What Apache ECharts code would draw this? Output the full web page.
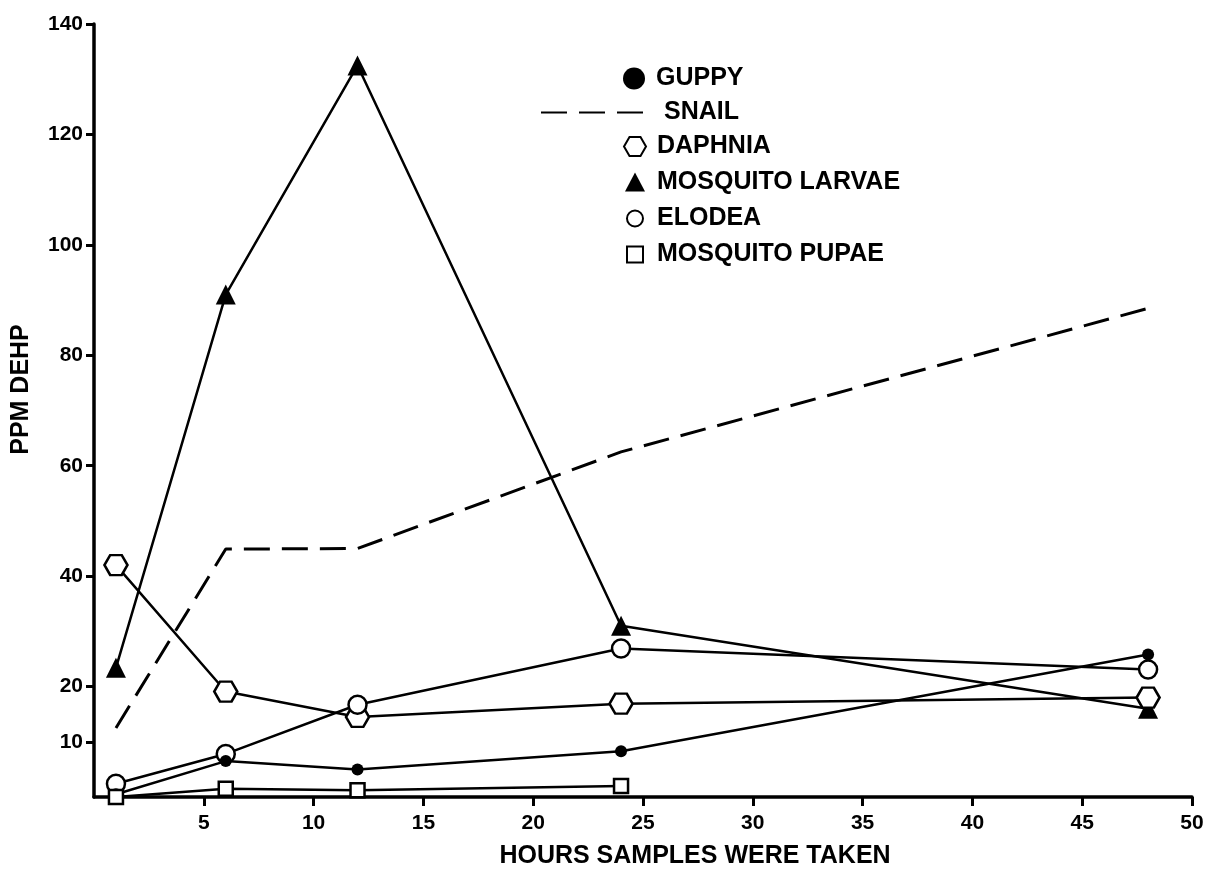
<!DOCTYPE html>
<html>
<head>
<meta charset="utf-8">
<script src="https://cdn.jsdelivr.net/npm/echarts@6/dist/echarts.min.js"></script>
<style>html,body{margin:0;padding:0;background:#fff}#c{width:1210px;height:879px}</style>
</head>
<body>
<div id="c"></div>
<script>
const hours = [1, 6, 12, 24, 48];
const guppy = [0.5, 6.5, 5, 8.3, 25.8];
const snail = [12.5, 44.9, 45, 62.5, 88.5];
const daphnia = [42, 19.1, 14.5, 16.9, 18];
const mosquitoLarvae = [23.4, 91, 132.5, 31, 16];
const elodea = [2.4, 7.8, 16.7, 26.9, 23.1];
const mosquitoPupae = [0, 1.5, 1.2, 2];
const xTicks = [5, 10, 15, 20, 25, 30, 35, 40, 45, 50];
const yTicks = [10, 20, 40, 60, 80, 100, 120, 140];

const pair = (vals) => vals.map((v, i) => [hours[i], v]);
const HEX = 'path://M0,4.33 L2.5,0 L7.5,0 L10,4.33 L7.5,8.66 L2.5,8.66 Z';
const HEX_LEG = 'path://M0,0 M22,22 M0,11 L5.5,1.5 L16.5,1.5 L22,11 L16.5,20.5 L5.5,20.5 Z';
const SQ_LEG = 'path://M0,0 M22,22 M3,3 L19,3 L19,19 L3,19 Z';
const CIR_LEG = 'path://M0,0 M22,22 M11,3 A8,8 0 1,1 10.99,3 Z';
const TRI_LEG = 'path://M0,0 M22,22 M11,1 L21,20 L1,20 Z';
const FONT = 'Liberation Sans';
const lineStyle = { color: '#000', width: 2.5 };
const openStyle = { color: '#fff', borderColor: '#000', borderWidth: 2.5 };
const fillStyle = { color: '#000', borderColor: '#000', borderWidth: 0 };
const legendText = { fontFamily: FONT, fontWeight: 'bold', fontSize: 25, color: '#000', padding: [0, 0, 0, 6] };
const tickFont = { fontFamily: FONT, fontWeight: 'bold', fontSize: 21, color: '#000' };

const option = {
  animation: false,
  backgroundColor: '#fff',
  grid: { left: 94, right: 18, top: 24, bottom: 82, outerBoundsMode: 'none', containLabel: false },
  xAxis: {
    type: 'value', min: 0, max: 50,
    name: 'HOURS SAMPLES WERE TAKEN', nameLocation: 'middle', nameGap: 47,
    nameTextStyle: { fontFamily: FONT, fontWeight: 'bold', fontSize: 25, color: '#000', padding: [0, 0, 0, 104] },
    axisLine: { lineStyle: { color: '#000', width: 3.5 } },
    axisTick: { customValues: xTicks, length: 9, lineStyle: { color: '#000', width: 3 } },
    axisLabel: Object.assign({ customValues: xTicks, margin: 16 }, tickFont),
    splitLine: { show: false }
  },
  yAxis: {
    type: 'value', min: 0, max: 140,
    name: 'PPM DEHP', nameLocation: 'middle', nameGap: 60,
    nameTextStyle: { fontFamily: FONT, fontWeight: 'bold', fontSize: 25, color: '#000', padding: [0, 0, 0, 42] },
    axisLine: { show: true, lineStyle: { color: '#000', width: 3.5 } },
    axisTick: { show: true, customValues: yTicks, length: 8, lineStyle: { color: '#000', width: 3 } },
    axisLabel: Object.assign({ customValues: yTicks, margin: 11 }, tickFont),
    splitLine: { show: false }
  },
  legend: [
    { orient: 'vertical', left: 623, top: 66, padding: 0, itemWidth: 22, itemHeight: 22, itemGap: 11, textStyle: legendText,
      data: [{ name: 'GUPPY', icon: 'circle' }] },
    { orient: 'vertical', left: 540, top: 100, padding: 0, itemWidth: 112, itemHeight: 22, itemGap: 11, textStyle: legendText,
      data: [{ name: 'SNAIL', itemStyle: { opacity: 0 } }] },
    { orient: 'vertical', left: 623, top: 134, padding: 0, itemWidth: 22, itemHeight: 22, itemGap: 11, textStyle: legendText,
      data: [{ name: 'DAPHNIA', icon: HEX_LEG }, { name: 'MOSQUITO LARVAE', icon: TRI_LEG },
             { name: 'ELODEA', icon: CIR_LEG }, { name: 'MOSQUITO PUPAE', icon: SQ_LEG }] }
  ],
  series: [
    { name: 'SNAIL', type: 'line', data: pair(snail), symbol: 'none',
      lineStyle: { color: '#000', width: 3, type: [26, 12] }, itemStyle: { color: '#000' }, z: 1 },
    { name: 'MOSQUITO LARVAE', type: 'line', data: pair(mosquitoLarvae), symbol: 'triangle', symbolSize: 20,
      lineStyle, itemStyle: fillStyle, z: 2 },
    { name: 'DAPHNIA', type: 'line', data: pair(daphnia), symbol: HEX, symbolSize: [23, 20], symbolKeepAspect: false,
      lineStyle, itemStyle: openStyle, z: 3 },
    { name: 'ELODEA', type: 'line', data: pair(elodea), symbol: 'circle', symbolSize: 18,
      lineStyle, itemStyle: openStyle, z: 4 },
    { name: 'GUPPY', type: 'line', data: pair(guppy), symbol: 'circle', symbolSize: 12,
      lineStyle, itemStyle: fillStyle, z: 5 },
    { name: 'MOSQUITO PUPAE', type: 'line', data: pair(mosquitoPupae), symbol: 'rect', symbolSize: 14,
      lineStyle, itemStyle: openStyle, z: 6 }
  ]
};
echarts.init(document.getElementById('c'), null, { renderer: 'canvas' }).setOption(option);
</script>
</body>
</html>
